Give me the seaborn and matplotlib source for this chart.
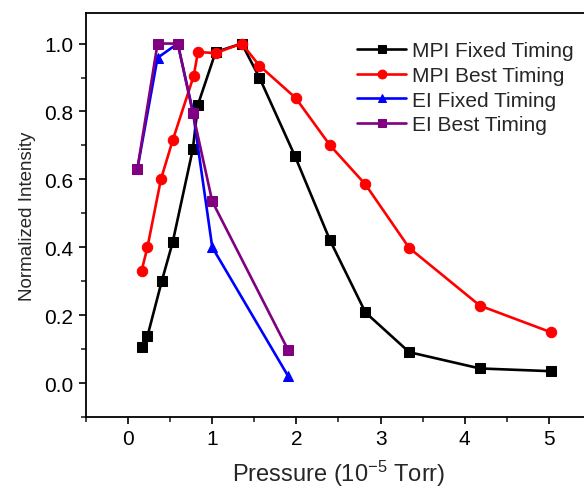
import pandas as pd
import matplotlib
matplotlib.use('Agg')
import matplotlib.pyplot as plt
import seaborn as sns
from matplotlib.ticker import MultipleLocator

sns.set_style("ticks")
plt.rcParams['font.family'] = ['Liberation Sans', 'DejaVu Sans']
plt.rcParams['mathtext.default'] = 'regular'

# Data
mpi_fixed_x = [0.17, 0.23, 0.40, 0.53, 0.77, 0.83, 1.04, 1.35, 1.56, 1.98, 2.40, 2.82, 3.34, 4.18, 5.02]
mpi_fixed_y = [0.105, 0.138, 0.30, 0.415, 0.69, 0.82, 0.975, 1.0, 0.90, 0.67, 0.42, 0.208, 0.091, 0.043, 0.035]

mpi_best_x = [0.16, 0.23, 0.39, 0.53, 0.78, 0.83, 1.04, 1.35, 1.56, 1.99, 2.40, 2.82, 3.34, 4.18, 5.02]
mpi_best_y = [0.33, 0.40, 0.60, 0.715, 0.905, 0.975, 0.972, 1.0, 0.935, 0.84, 0.70, 0.585, 0.398, 0.228, 0.15]

ei_fixed_x = [0.11, 0.35, 0.59, 0.77, 1.00, 1.90]
ei_fixed_y = [0.63, 0.958, 1.0, 0.80, 0.40, 0.021]

ei_best_x = [0.11, 0.35, 0.59, 0.77, 1.00, 1.90]
ei_best_y = [0.63, 1.0, 1.0, 0.795, 0.535, 0.098]

series_names = ['MPI Fixed Timing', 'MPI Best Timing', 'EI Fixed Timing', 'EI Best Timing']
colors = ['#000000', '#ff0000', '#0000ff', '#800080']
markers = ['s', 'o', '^', 's']
msizes = [6.5, 7.5, 7.5, 6.5]

frames = []
for name, xs, ys in zip(series_names,
                        [mpi_fixed_x, mpi_best_x, ei_fixed_x, ei_best_x],
                        [mpi_fixed_y, mpi_best_y, ei_fixed_y, ei_best_y]):
    frames.append(pd.DataFrame({'pressure': xs, 'intensity': ys, 'series': name}))
df = pd.concat(frames, ignore_index=True)

fig = plt.figure(figsize=(5.84, 4.89), dpi=100)
ax = fig.add_axes([86 / 584, 71 / 489, 505 / 584, 404 / 489])

for name, c, m, ms in zip(series_names, colors, markers, msizes):
    sub = df[df['series'] == name]
    sns.lineplot(data=sub, x='pressure', y='intensity', ax=ax, color=c,
                 marker=m, markersize=ms, markeredgecolor=c, linewidth=1.9,
                 label=name, sort=False, estimator=None)

ax.set_xlim(-0.5, 5.5)
ax.set_ylim(-0.1, 1.09)
ax.xaxis.set_major_locator(MultipleLocator(1))
ax.xaxis.set_minor_locator(MultipleLocator(0.5))
ax.yaxis.set_major_locator(MultipleLocator(0.2))
ax.yaxis.set_minor_locator(MultipleLocator(0.1))
ax.yaxis.set_major_formatter(matplotlib.ticker.FormatStrFormatter('%.1f'))

ax.tick_params(which='major', direction='out', length=5, width=1.2, labelsize=15, pad=4, colors='black')
ax.tick_params(which='minor', direction='out', length=3.5, width=1.2)
for s in ax.spines.values():
    s.set_linewidth(1.3)
    s.set_color('black')

ax.set_xlabel(r'Pressure (10$^{-5}$ Torr)', fontsize=17, labelpad=7)
ax.set_ylabel('Normalized Intensity', fontsize=13.5, labelpad=6)

ax.legend(loc='upper left', bbox_to_anchor=(0.537, 0.93), frameon=False, fontsize=15,
          handlelength=2.35, handletextpad=0.3, labelspacing=0.27, borderpad=0, borderaxespad=0,
          markerscale=0.85)

fig.savefig('out.png', dpi=100)
